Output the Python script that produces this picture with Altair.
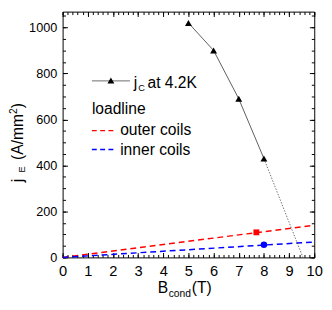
import altair as alt
import pandas as pd

# ---------------- data ----------------
jc_B = [5, 6, 7, 8]
jc_j = [1020, 900, 690, 430]
extrap_B = [8, 9.55]
extrap_j = [430, 0]
outer_B = [0, 10]
outer_j = [0, 140]
inner_B = [0, 10]
inner_j = [0, 67]
outer_pt_B = [7.7]
outer_pt_j = [109]
inner_pt_B = [8.0]
inner_pt_j = [55]

x_ticks = list(range(0, 11))
x_minor = [round(i * 0.2, 1) for i in range(51)]
y_ticks = list(range(0, 1001, 200))
y_minor = list(range(0, 1051, 50))
x_range = [0, 10]
y_range = [0, 1069]

legend_labels = ["j", "C", "at 4.2K", "loadline", "outer coils", "inner coils"]
x_title_parts = ["B", "cond", "(T)"]
y_title_parts = ["j", "E", "(A/mm", "2", ")"]

# ---------------- layout ----------------
W, H = 258, 252
F = "Liberation Sans"
xs = alt.Scale(domain=x_range, nice=False, zero=False)
ys = alt.Scale(domain=y_range, nice=False)

x_axis = alt.Axis(orient="bottom", values=x_ticks, tickSize=0, domain=False, grid=False,
                  labelFont=F, labelFontSize=15, labelColor="black", labelPadding=7,
                  labelFlush=False, labelOverlap=False, title="")
y_axis = alt.Axis(orient="left", values=y_ticks, tickSize=0, domain=False, grid=False, format="d",
                  labelFont=F, labelFontSize=13, labelColor="black", labelPadding=6,
                  labelOverlap=False, title="")


def tick_axis(orient, values, length):
    # inward ticks: a negative tick length given as an expression
    return alt.Axis(orient=orient, values=values, tickSize={"expr": str(-length)}, labels=False,
                    domain=False, grid=False, tickColor="black", tickWidth=1, title="")


def df(xv, yv):
    return pd.DataFrame({"B": xv, "j": yv})


def enc(ch, xa=None, ya=None):
    return ch.encode(
        x=alt.X("B:Q", scale=xs, axis=xa),
        y=alt.Y("j:Q", scale=ys, axis=ya),
    )


outer_line = enc(alt.Chart(df(outer_B, outer_j)).mark_line(color="#ff0000", strokeWidth=1.5, strokeDash=[6, 4]),
                 x_axis, y_axis)
inner_line = enc(alt.Chart(df(inner_B, inner_j)).mark_line(color="#0000ff", strokeWidth=1.5, strokeDash=[6, 4]),
                 tick_axis("bottom", x_ticks, 5), tick_axis("left", y_ticks, 5))
jc_line = enc(alt.Chart(df(jc_B, jc_j)).mark_line(color="#333333", strokeWidth=0.8),
              tick_axis("bottom", x_minor, 3), tick_axis("left", y_minor, 3))
extrap_line = enc(alt.Chart(df(extrap_B, extrap_j)).mark_line(color="#333333", strokeWidth=0.7, strokeDash=[1.5, 1.5]),
                  tick_axis("top", x_ticks, 5), tick_axis("right", y_ticks, 5))
jc_pts = enc(alt.Chart(df(jc_B, jc_j)).mark_point(shape="triangle-up", filled=True, color="black", size=50, opacity=1),
             tick_axis("top", x_minor, 3), tick_axis("right", y_minor, 3))
outer_pt = enc(alt.Chart(df(outer_pt_B, outer_pt_j)).mark_point(shape="square", filled=True, color="#ff0000", size=36, opacity=1))
inner_pt = enc(alt.Chart(df(inner_pt_B, inner_pt_j)).mark_circle(color="#0000ff", size=45, opacity=1))

one = pd.DataFrame({"a": [0]})


def txt(s, x, y, size=16, angle=0):
    kw = dict(text=s, align="left", baseline="alphabetic", font=F, fontSize=size, color="black")
    if angle:
        kw["angle"] = angle
    return alt.Chart(one).mark_text(**kw).encode(x=alt.value(x), y=alt.value(y))


def seg(x1, x2, y, **kw):
    return alt.Chart(one).mark_rule(**kw).encode(x=alt.value(x1), x2=alt.value(x2), y=alt.value(y))


legend = [
    seg(30, 69, 71, color="#444444", strokeWidth=0.8),
    alt.Chart(one).mark_point(shape="triangle-up", filled=True, color="black", size=50, opacity=1)
    .encode(x=alt.value(49.5), y=alt.value(70.5)),
    txt(legend_labels[0], 73, 78.5),
    txt(legend_labels[1], 77.5, 81.5, size=9.5),
    txt(legend_labels[2], 87, 78.5),
    txt(legend_labels[3], 30, 104.7),
    seg(30, 55, 122, color="#ff0000", strokeWidth=1.5, strokeDash=[5, 3.5]),
    txt(legend_labels[4], 59, 127),
    seg(30, 55, 141.3, color="#0000ff", strokeWidth=1.5, strokeDash=[5, 3.5]),
    txt(legend_labels[5], 59, 147),
]

titles = [
    txt(x_title_parts[0], 97.5, 289),
    txt(x_title_parts[1], 108.7, 293, size=10.5),
    txt(x_title_parts[2], 132.5, 289),
    txt(y_title_parts[0], -41, 175, angle=270),
    txt(y_title_parts[1], -39, 165, size=9.5, angle=270),
    txt(y_title_parts[2], -41, 152, angle=270),
    txt(y_title_parts[3], -47, 105, size=10.5, angle=270),
    txt(y_title_parts[4], -41, 99, angle=270),
]

chart = alt.layer(
    outer_line, inner_line, jc_line, extrap_line, jc_pts, outer_pt, inner_pt, *legend, *titles
).resolve_axis(x="independent", y="independent").properties(
    width=W, height=H,
    autosize=alt.AutoSizeParams(type="none"),
    padding={"left": 56, "top": 0, "right": 10, "bottom": 42},
    background="white",
).configure_view(stroke="black", strokeWidth=1)

chart.save("out.html", embed_options={"renderer": "svg", "actions": False})
